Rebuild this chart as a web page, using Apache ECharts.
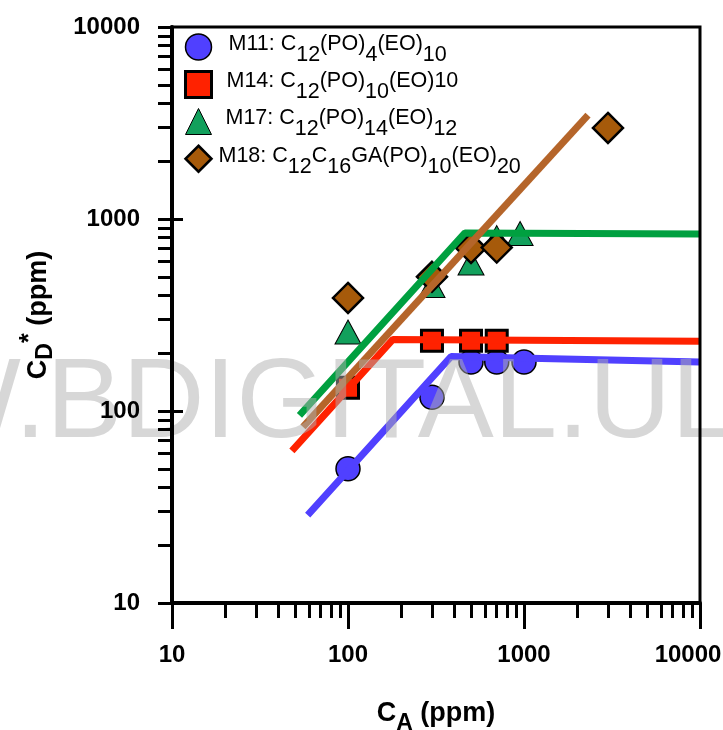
<!DOCTYPE html>
<html><head><meta charset="utf-8">
<script src="https://cdn.jsdelivr.net/npm/echarts@6/dist/echarts.min.js"></script>
<style>html,body{margin:0;padding:0;background:#fff}#c{width:723px;height:730px}</style>
</head><body><div id="c"></div>
<script>
const seriesNames = ['M11', 'M14', 'M17', 'M18'];
const legendLabels = {
  M11: '{a|}{n|M11: C}{s|12}{n|(PO)}{s|4}{n|(EO)}{s|10}',
  M14: '{b|}{n|M14: C}{s|12}{n|(PO)}{s|10}{n|(EO)10}',
  M17: '{c|}{n|M17: C}{s|12}{n|(PO)}{s|14}{n|(EO)}{s|12}',
  M18: '{d|}{n|M18: C}{s|12}{n|C}{s|16}{n|GA(PO)}{s|10}{n|(EO)}{s|20}'
};
// measured points [C_A, C_D*]
const m11Points = [[100, 50], [300, 118], [500, 180], [700, 180], [1000, 180]];
const m14Points = [[100, 132], [300, 232], [500, 232], [700, 232]];
const m17Points = [[100, 258], [300, 450], [500, 590], [700, 800], [950, 840]];
const m18Points = [[100, 388], [300, 500], [500, 706], [700, 710], [3000, 2980]];
// fitted lines
const m11Fit = [[59, 28.7], [385, 192], [10000, 180]];
const m14Fit = [[48, 62], [180, 236], [10000, 231]];
const m17Fit = [[53, 95], [462, 846], [10000, 835]];
const m18Fit = [[55.5, 82.6], [2310, 3480]];
// ticks
const majorTicks = [10, 100, 1000, 10000];
const minorTicks = [20, 30, 40, 50, 60, 70, 80, 90, 200, 300, 400, 500, 600, 700, 800, 900, 2000, 3000, 4000, 5000, 6000, 7000, 8000, 9000];
const yAllTicks = [10, 20, 30, 40, 50, 60, 70, 80, 90, 100, 200, 300, 400, 500, 600, 700, 800, 900, 1000, 2000, 3000, 4000, 5000, 6000, 7000, 8000, 9000, 10000];
const yInnerTicks = [100, 1000];

const FF = '"Liberation Sans", Arial, sans-serif';
const chart = echarts.init(document.getElementById('c'), null, { renderer: 'canvas' });

const tickLabelStyle = { color: '#000', fontFamily: FF, fontWeight: 'bold', fontSize: 24 };
const baseLog = { type: 'log', logBase: 10, min: 10, max: 10000, splitLine: { show: false }, minorTick: { show: false }, z: 10 };

const option = {
  animation: false,
  backgroundColor: '#fff',
  grid: { left: 172, right: 23, top: 27, bottom: 127, show: true, borderColor: '#000', borderWidth: 3, backgroundColor: 'transparent', z: 10, containLabel: false, outerBoundsMode: 'none' },
  xAxis: [
    Object.assign({}, baseLog, {
      position: 'bottom',
      axisLine: { show: true, onZero: false, lineStyle: { color: '#000', width: 4 } },
      axisTick: { show: true, inside: false, length: 15, customValues: minorTicks, lineStyle: { color: '#000', width: 3 } },
      axisLabel: Object.assign({
        customValues: majorTicks, margin: 40,
        formatter: v => Math.round(v) === 10000 ? '{e|' + Math.round(v) + '}' : String(Math.round(v)),
        rich: { e: { color: '#000', fontFamily: FF, fontWeight: 'bold', fontSize: 24, padding: [0, 24, 0, 0] } }
      }, tickLabelStyle),
      name: '{c|C}{s|A}{c| (ppm)}',
      nameLocation: 'middle',
      nameGap: 95,
      nameTextStyle: {
        color: '#000', fontFamily: FF, fontWeight: 'bold', fontSize: 26,
        rich: {
          c: { fontFamily: FF, fontWeight: 'bold', fontSize: 27, color: '#000', padding: [0, 0, 6, 0] },
          s: { fontFamily: FF, fontWeight: 'bold', fontSize: 23, color: '#000', padding: [14, 0, 0, 0] }
        }
      }
    }),
    Object.assign({}, baseLog, {
      position: 'bottom',
      axisLine: { show: false, onZero: false },
      axisTick: { show: true, inside: false, length: 26, customValues: majorTicks, lineStyle: { color: '#000', width: 3 } },
      axisLabel: { show: false }
    })
  ],
  yAxis: [
    Object.assign({}, baseLog, {
      position: 'left',
      axisLine: { show: true, onZero: false, lineStyle: { color: '#000', width: 4 } },
      axisTick: { show: true, inside: false, length: 14, customValues: yAllTicks, lineStyle: { color: '#000', width: 3 } },
      axisLabel: Object.assign({ customValues: majorTicks, margin: 32, formatter: v => String(Math.round(v)) }, tickLabelStyle),
      name: '{c|C}{s|D}{u|*}{c| (ppm)}',
      nameLocation: 'middle',
      nameGap: 113,
      nameRotate: 90,
      nameTextStyle: {
        color: '#000', fontFamily: FF, fontWeight: 'bold', fontSize: 27,
        rich: {
          c: { fontFamily: FF, fontWeight: 'bold', fontSize: 27, color: '#000', padding: [0, 0, 0, 0] },
          s: { fontFamily: FF, fontWeight: 'bold', fontSize: 23, color: '#000', padding: [14, 0, 0, 0] },
          u: { fontFamily: FF, fontWeight: 'bold', fontSize: 25, color: '#000', padding: [0, 0, 16, 0] }
        }
      }
    }),
    Object.assign({}, baseLog, {
      position: 'left',
      axisLine: { show: false, onZero: false },
      axisTick: { show: true, inside: true, length: 11, customValues: yInnerTicks, lineStyle: { color: '#000', width: 3 } },
      axisLabel: { show: false }
    })
  ],
  legend: {
    data: [
      { name: 'M11', icon: 'circle', itemStyle: { color: '#5040FF', borderColor: '#000', borderWidth: 1.5 } },
      { name: 'M14', icon: 'rect', itemStyle: { color: '#FF2200', borderColor: '#000', borderWidth: 3 } },
      { name: 'M17', icon: 'triangle', itemStyle: { color: '#12A05C', borderColor: '#000', borderWidth: 1 } },
      { name: 'M18', icon: 'diamond', itemStyle: { color: '#A65A0A', borderColor: '#000', borderWidth: 2.5 } }
    ],
    orient: 'vertical',
    left: 184,
    top: 33,
    padding: 0,
    itemWidth: 26,
    itemHeight: 26,
    itemGap: 4,
    selectedMode: false,
    formatter: name => legendLabels[name],
    textStyle: {
      color: '#000', fontFamily: FF, fontSize: 21.5,
      rich: {
        a: { width: 12 },
        b: { width: 10 },
        c: { width: 9 },
        d: { width: 2 },
        n: { fontFamily: FF, fontSize: 21.5, color: '#000', padding: [0, 0, 6, 0], verticalAlign: 'middle' },
        s: { fontFamily: FF, fontSize: 21.5, color: '#000', padding: [16, 0, 0, 0], verticalAlign: 'middle' }
      }
    }
  },
  series: [
    { name: 'M11', type: 'scatter', data: m11Points, symbol: 'circle', symbolSize: 24, z: 2,
      itemStyle: { color: '#5040FF', borderColor: '#000', borderWidth: 1.5, opacity: 1 } },
    { name: 'M14', type: 'scatter', data: m14Points, symbol: 'rect', symbolSize: 21, z: 2,
      itemStyle: { color: '#FF2200', borderColor: '#000', borderWidth: 3, opacity: 1 } },
    { name: 'M17', type: 'scatter', data: m17Points, symbol: 'triangle', symbolSize: [26, 24], z: 2,
      itemStyle: { color: '#12A05C', borderColor: '#000', borderWidth: 1, opacity: 1 } },
    { name: 'M18', type: 'scatter', data: m18Points, symbol: 'diamond', symbolSize: 30, z: 2,
      itemStyle: { color: '#A65A0A', borderColor: '#000', borderWidth: 2.5, opacity: 1 } },
    { name: 'M11 fit', type: 'line', data: m11Fit, symbol: 'none', z: 3, silent: true,
      lineStyle: { color: '#5040FF', width: 7 } },
    { name: 'M14 fit', type: 'line', data: m14Fit, symbol: 'none', z: 3, silent: true,
      lineStyle: { color: '#FF2200', width: 7 } },
    { name: 'M17 fit', type: 'line', data: m17Fit, symbol: 'none', z: 3, silent: true,
      lineStyle: { color: '#00A040', width: 7 } },
    { name: 'M18 fit', type: 'line', data: m18Fit, symbol: 'none', z: 3, silent: true,
      lineStyle: { color: '#B5652A', width: 7 } }
  ],
  graphic: [
    { type: 'text', x: -302, y: 406, z: 5, silent: true,
      style: { text: 'WWW.BDIGITAL.ULA.VE', font: '114px "Liberation Sans", Arial, sans-serif', fill: 'rgba(175,175,175,0.5)', align: 'left', verticalAlign: 'middle' } }
  ]
};
chart.setOption(option);
</script>
</body></html>
